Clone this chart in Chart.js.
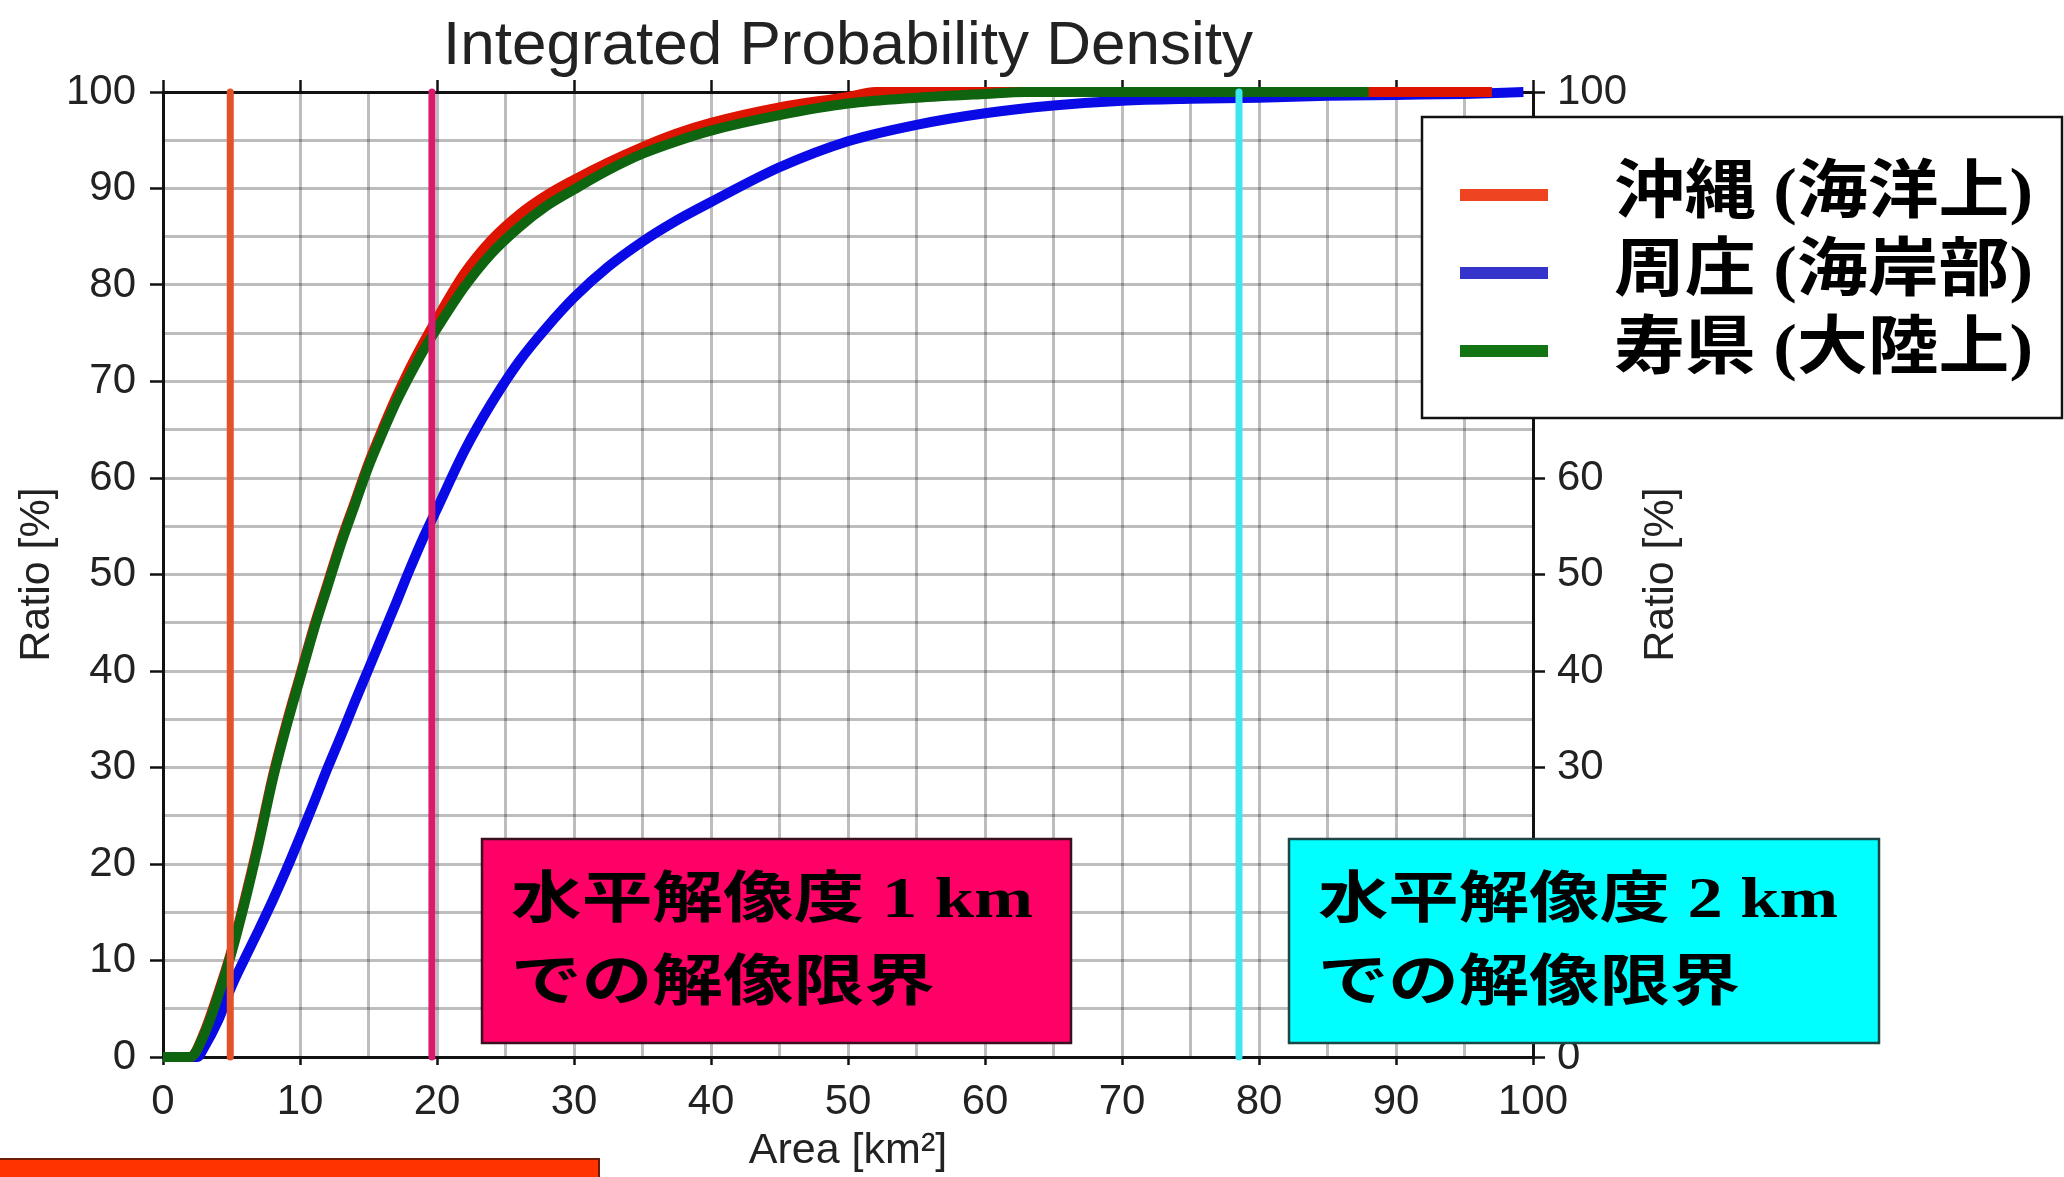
<!DOCTYPE html>
<html>
<head>
<meta charset="utf-8">
<script src="https://cdn.jsdelivr.net/npm/chart.js@4.4.0/dist/chart.umd.min.js"></script>
<style>
  html, body { margin: 0; padding: 0; background: #ffffff; }
  #wrap { width: 2064px; height: 1177px; position: relative; }
  canvas { display: block; }
</style>
</head>
<body>
<div id="wrap"><canvas id="chart" width="2064" height="1177"></canvas></div>
<script>
// ---- data: cumulative ratio [%] against cell area [km2] ----
const okinawaArea  = [0, 2, 3, 4, 5, 6, 7, 8, 9, 10, 11, 12, 13, 14, 15, 16, 17, 18, 19, 20, 22, 24, 26, 28, 30, 32.5, 35, 37.5, 40, 45, 50, 52, 60, 70, 80, 90, 97];
const okinawaRatio = [0, 0, 2.5, 6.5, 11, 16.5, 22.5, 29, 34.5, 39.5, 44.5, 49, 53.5, 57.5, 61.5, 65, 68.3, 71.3, 74, 76.5, 81.2, 84.7, 87.3, 89.3, 90.9, 92.7, 94.3, 95.7, 96.8, 98.4, 99.5, 100, 100, 100, 100, 100, 100];

const zhouzhuangArea  = [0, 2.5, 3, 4, 5, 6, 7, 8, 9, 10, 11, 12, 13, 14, 15, 16, 17, 18, 19, 20, 22, 24, 26, 28, 30, 32.5, 35, 37.5, 40, 45, 50, 55, 60, 65, 70, 75, 80, 85, 90, 95, 99.3];
const zhouzhuangRatio = [0, 0, 1, 3.7, 7.3, 10.3, 13.2, 16.2, 19.4, 22.8, 26.3, 29.9, 33.3, 36.8, 40.2, 43.6, 47, 50.5, 53.8, 56.8, 62.8, 67.8, 72.1, 75.6, 78.7, 81.9, 84.5, 86.7, 88.6, 92.2, 94.9, 96.6, 97.8, 98.6, 99.1, 99.3, 99.4, 99.6, 99.7, 99.8, 100];

const shouxianArea  = [0, 2, 3, 4, 5, 6, 7, 8, 9, 10, 11, 12, 13, 14, 15, 16, 17, 18, 19, 20, 22, 24, 26, 28, 30, 32.5, 35, 37.5, 40, 45, 50, 55, 60, 63, 70, 80, 88];
const shouxianRatio = [0, 0, 2.3, 6.2, 10.8, 16.2, 22.2, 28.7, 34.2, 39.2, 44.2, 48.7, 53.2, 57.2, 61.2, 64.6, 67.8, 70.6, 73.2, 75.5, 79.8, 83.3, 86, 88.2, 89.9, 91.9, 93.6, 94.9, 96, 97.6, 98.8, 99.4, 99.8, 100, 100, 100, 100];

// resolution limit areas (km2) for 0.5 km, 1 km and 2 km grids
const resolutionLimits = [4.91, 19.63, 78.54];

const seriesLabels = ['沖縄 (海洋上)', '周庄 (海岸部)', '寿県 (大陸上)'];
const xTickLabels  = [0, 10, 20, 30, 40, 50, 60, 70, 80, 90, 100];
const yTickLabels  = [0, 10, 20, 30, 40, 50, 60, 70, 80, 90, 100];

const chartTitle = 'Integrated Probability Density';
const xTitle = 'Area [km²]';
const yTitle = 'Ratio [%]';
const boxTexts = [
  ['水平解像度 1 km', 'での解像限界'],
  ['水平解像度 2 km', 'での解像限界']
];

// ---- styles ----
const seriesColors = ['#dc1400', '#0a0ae6', '#0f640f'];
const legendColors = ['#ee4422', '#3535cc', '#127412'];
const limitColors  = ['#e3522a', '#d81b6e', '#3ee6f0'];
const GRID = 'rgba(0,0,0,0.26)';
const INK = '#111111';
const LABEL = '#222222';
const SANS = '"Liberation Sans", Arial, Helvetica, sans-serif';
const CJK = '"Liberation Serif", "Noto Sans CJK JP", serif';

Chart.defaults.font.family = SANS;

const toPoints = (xs, ys) => xs.map((x, i) => ({ x: x, y: ys[i] }));
const isMajor = v => v % 10 === 0;

const curveStyle = {
  borderWidth: 10,
  pointRadius: 0,
  fill: false,
  clip: false,
  cubicInterpolationMode: 'monotone',
  borderJoinStyle: 'round'
};

const datasets = [
  Object.assign({ label: seriesLabels[0], data: toPoints(okinawaArea, okinawaRatio), borderColor: seriesColors[0], order: 3 }, curveStyle),
  Object.assign({ label: seriesLabels[1], data: toPoints(zhouzhuangArea, zhouzhuangRatio), borderColor: seriesColors[1], order: 4 }, curveStyle),
  Object.assign({ label: seriesLabels[2], data: toPoints(shouxianArea, shouxianRatio), borderColor: seriesColors[2], order: 2 }, curveStyle)
];
resolutionLimits.forEach((a, i) => {
  datasets.push({
    label: 'limit ' + a,
    data: [{ x: a, y: 0 }, { x: a, y: 100 }],
    borderColor: limitColors[i],
    borderWidth: 7,
    borderCapStyle: 'round',
    pointRadius: 0,
    clip: false,
    order: 1
  });
});

function stretchedText(ctx, text, x, y, sx) {
  ctx.save();
  ctx.translate(x, y);
  ctx.scale(sx, 1);
  ctx.fillText(text, 0, 0);
  ctx.restore();
}

function textBox(ctx, rect, fill, stroke, lines, textX, lineYs, line1Width) {
  ctx.save();
  ctx.fillStyle = fill;
  ctx.fillRect(rect[0], rect[1], rect[2], rect[3]);
  ctx.lineWidth = 2.5;
  ctx.strokeStyle = stroke;
  ctx.strokeRect(rect[0], rect[1], rect[2], rect[3]);
  ctx.font = 'bold 56px ' + CJK;
  ctx.fillStyle = '#000000';
  ctx.textBaseline = 'middle';
  ctx.textAlign = 'left';
  const sx = line1Width / ctx.measureText(lines[0]).width;
  lines.forEach((t, i) => stretchedText(ctx, t, textX, lineYs[i], sx));
  ctx.restore();
}

const overlays = {
  id: 'overlays',
  afterDraw(chart) {
    const ctx = chart.ctx;
    const area = chart.chartArea;

    // chart title
    ctx.save();
    ctx.font = '62px ' + SANS;
    ctx.fillStyle = LABEL;
    ctx.textAlign = 'center';
    ctx.textBaseline = 'alphabetic';
    ctx.fillText(chartTitle, (area.left + area.right) / 2, 64);
    ctx.restore();

    // right-hand axis title, reading upwards like the left one
    ctx.save();
    ctx.font = '43px ' + SANS;
    ctx.fillStyle = LABEL;
    ctx.textAlign = 'center';
    ctx.textBaseline = 'middle';
    ctx.translate(1661, (area.top + area.bottom) / 2);
    ctx.rotate(-Math.PI / 2);
    ctx.fillText(yTitle, 0, 0);
    ctx.restore();

    // legend
    ctx.save();
    ctx.fillStyle = '#ffffff';
    ctx.fillRect(1422, 117, 640, 301);
    ctx.lineWidth = 2.5;
    ctx.strokeStyle = INK;
    ctx.strokeRect(1422, 117, 640, 301);
    const rows = [195, 273, 351];
    ctx.font = 'bold 64px ' + CJK;
    ctx.textBaseline = 'middle';
    ctx.fillStyle = '#000000';
    const sx = 419 / ctx.measureText(seriesLabels[0]).width;
    seriesLabels.forEach((t, i) => {
      ctx.fillStyle = legendColors[i];
      ctx.fillRect(1460, rows[i] - 6, 88, 12);
      ctx.fillStyle = '#000000';
      stretchedText(ctx, t, 1614, rows[i], sx);
    });
    ctx.restore();

    // resolution-limit notes
    textBox(ctx, [482, 839, 589, 204], '#ff0066', '#3a1020', boxTexts[0], 511, [903, 986], 522);
    textBox(ctx, [1289, 839, 590, 204], '#00ffff', '#1c4646', boxTexts[1], 1318, [903, 986], 520);

    // footer bar
    ctx.save();
    ctx.fillStyle = '#ff3300';
    ctx.fillRect(-4, 1159, 603, 30);
    ctx.lineWidth = 2;
    ctx.strokeStyle = '#6a1c08';
    ctx.strokeRect(-4, 1159, 603, 30);
    ctx.restore();
  }
};

const tickFont = { size: 42 };

new Chart(document.getElementById('chart'), {
  type: 'line',
  data: { datasets: datasets },
  plugins: [overlays],
  options: {
    responsive: false,
    animation: false,
    devicePixelRatio: 1,
    layout: { padding: { left: 11, right: 380, top: 0, bottom: 0 } },
    plugins: { legend: { display: false }, tooltip: { enabled: false }, title: { display: false } },
    scales: {
      x: {
        type: 'linear', position: 'bottom', min: 0, max: 100,
        afterBuildTicks: s => { s.ticks = []; for (let v = 0; v <= 100; v += 5) s.ticks.push({ value: v }); },
        ticks: {
          autoSkip: false, maxRotation: 0, font: tickFont, color: LABEL, padding: 12,
          callback: v => (isMajor(v) && xTickLabels.includes(v)) ? String(v) : ''
        },
        grid: {
          color: GRID, lineWidth: 3, tickLength: 8, tickWidth: 2.5,
          tickColor: c => (c.tick && isMajor(c.tick.value)) ? INK : 'rgba(0,0,0,0)'
        },
        border: { color: INK, width: 3 },
        title: { display: true, text: xTitle, font: { size: 43 }, color: LABEL, padding: 0 },
        afterFit: s => { s.height = 120; }
      },
      xTop: {
        type: 'linear', position: 'top', min: 0, max: 100,
        afterBuildTicks: s => { s.ticks = xTickLabels.map(v => ({ value: v })); },
        ticks: { display: false },
        grid: { drawOnChartArea: false, tickLength: 12, tickWidth: 2.5, tickColor: INK },
        border: { color: INK, width: 3 },
        afterFit: s => { s.height = 92; }
      },
      y: {
        type: 'linear', position: 'left', min: 0, max: 100,
        afterBuildTicks: s => { s.ticks = []; for (let v = 0; v <= 100; v += 5) s.ticks.push({ value: v }); },
        ticks: {
          autoSkip: false, font: tickFont, color: LABEL, padding: 14,
          callback: v => (isMajor(v) && yTickLabels.includes(v)) ? String(v) : ''
        },
        grid: {
          color: GRID, lineWidth: 3, tickLength: 13, tickWidth: 2.5,
          tickColor: c => (c.tick && isMajor(c.tick.value)) ? INK : 'rgba(0,0,0,0)'
        },
        border: { color: INK, width: 3 },
        title: { display: true, text: yTitle, font: { size: 43 }, color: LABEL, padding: 0 },
        afterFit: s => { s.width = 152; }
      },
      yRight: {
        type: 'linear', position: 'right', min: 0, max: 100,
        afterBuildTicks: s => { s.ticks = yTickLabels.map(v => ({ value: v })); },
        ticks: { autoSkip: false, font: tickFont, color: LABEL, padding: 12, callback: v => String(v) },
        grid: { drawOnChartArea: false, tickLength: 12, tickWidth: 2.5, tickColor: INK },
        border: { color: INK, width: 3 },
        afterFit: s => { s.width = 151; }
      }
    }
  }
});
</script>
</body>
</html>
